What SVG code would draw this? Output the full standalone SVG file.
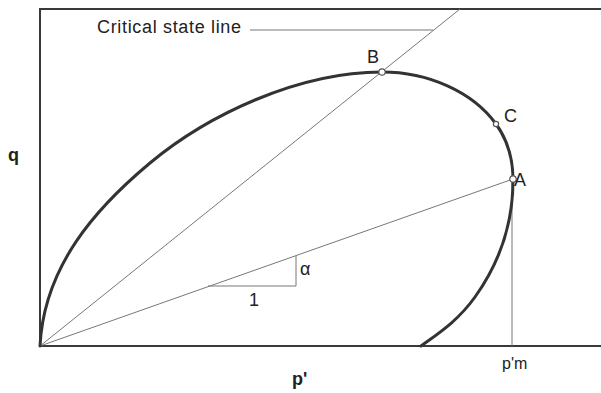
<svg xmlns="http://www.w3.org/2000/svg" width="601" height="393" viewBox="0 0 601 393">
  <style>
    .axis { stroke: #3a3a3a; stroke-width: 2; fill: none; }
    .thin { stroke: #777; stroke-width: 1; fill: none; }
    .curve { stroke: #333; stroke-width: 3; fill: none; stroke-linecap: round; }
    .pt { fill: #fff; stroke: #555; stroke-width: 1.2; }
    .lbl { font-family: "Liberation Sans", Arial, sans-serif; font-size: 18px; fill: #222; }
    .bold { font-weight: bold; }
  </style>
  <rect width="601" height="393" fill="#fff"/>

  <g id="axes">
    <polyline class="axis" points="601,9 40,9 40,346 601,346"/>
    <text class="lbl bold" x="8" y="161">q</text>
    <text class="lbl bold" x="292" y="385">p'</text>
  </g>

  <g id="connectors">
    <line id="csl" class="thin" x1="40" y1="346" x2="460" y2="9"/>
    <line id="leader" class="thin" x1="250" y1="30" x2="433" y2="30"/>
    <line id="oa" class="thin" x1="40" y1="346" x2="513" y2="179"/>
    <line id="pm-line" class="thin" x1="512" y1="182" x2="512" y2="346"/>
    <polyline id="slope" class="thin" points="208,286 296,286 296,256"/>
  </g>

  <g id="yield-surface">
    <path class="curve" d="M40,346 C44,266 96,208 150,163 C207.8,115 298,72 382,72 C428,72 472.6,91.6 496,124 C508.9,141.8 513,160 513,180 C513,225 498.2,264.6 475,297 C457.6,321.3 438.2,333.4 421,346"/>
  </g>

  <g id="csl-label">
    <text class="lbl" x="97" y="33" textLength="144" lengthAdjust="spacing">Critical state line</text>
  </g>

  <g id="point-B">
    <circle class="pt" cx="382" cy="72" r="3.2"/>
    <text class="lbl" x="367" y="63">B</text>
  </g>
  <g id="point-C">
    <circle class="pt" cx="496" cy="124" r="2.6"/>
    <text class="lbl" x="504" y="122">C</text>
  </g>
  <g id="point-A">
    <circle class="pt" cx="513" cy="179" r="3.2"/>
    <text class="lbl" x="514" y="186">A</text>
  </g>

  <g id="slope-labels">
    <text class="lbl" x="249" y="306">1</text>
    <text class="lbl" x="300" y="275">α</text>
  </g>

  <g id="pm-label">
    <text class="lbl" x="502" y="369" style="font-size:16px">p'm</text>
  </g>
</svg>
